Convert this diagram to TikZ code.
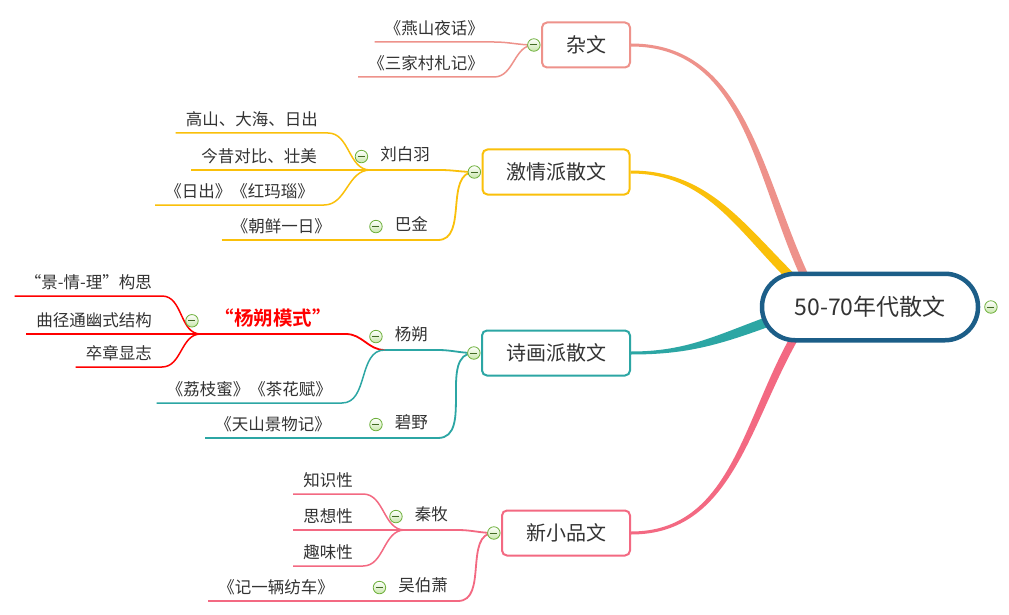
\documentclass[tikz,border=0pt]{standalone}
\usepackage{fontspec}
\setmainfont{Noto Sans CJK SC}[BoldFont={Noto Sans CJK SC Bold}]
\usetikzlibrary{positioning,calc,backgrounds}
\definecolor{txt}{RGB}{51,51,51}
\definecolor{rootc}{RGB}{28,94,136}
\definecolor{zwc}{RGB}{238,146,139}
\definecolor{jqc}{RGB}{250,192,10}
\definecolor{shc}{RGB}{44,166,164}
\definecolor{xpc}{RGB}{243,105,130}
\definecolor{togc}{RGB}{110,176,60}
\definecolor{togf}{RGB}{200,230,170}

\begin{document}
\begin{tikzpicture}[x=1pt,y=1pt,
    root/.style={draw=rootc,line width=4.5pt,rounded corners=33pt,fill=white,
      minimum width=216pt,minimum height=66.5pt,inner sep=0pt,
      font=\fontsize{23}{27}\selectfont,text=txt},
    branch/.style={draw=#1,line width=2pt,rounded corners=5pt,fill=white,
      minimum height=45pt,inner sep=0pt,font=\fontsize{20}{24}\selectfont,text=txt},
    sub/.style={anchor=south east,inner xsep=10pt,inner ysep=6pt,
      text height=11.5pt,text depth=3pt,font=\fontsize{16.5}{19}\selectfont,text=txt},
    leaf/.style={anchor=south east,inner xsep=10pt,inner ysep=4pt,
      text height=11pt,text depth=3pt,font=\fontsize{16.5}{19}\selectfont,text=txt},
    tog/.style={circle,draw=togc,line width=0.8pt,minimum size=12.5pt,inner sep=0pt,
      top color=white,bottom color=togf,
      path picture={\draw[togc!60!black,line width=1pt]
        ([xshift=-3.5pt]path picture bounding box.center) --
        ([xshift=3.5pt]path picture bounding box.center);}},
    sline/.style={line width=1.8pt},
    lline/.style={line width=1.5pt}]
  \useasboundingbox (0,0) rectangle (1009,-615);

  % Wurzel
  \node[root] (root) at (870,-307) {50-70年代散文};
  \node[tog,right=4pt of root] (t-root) {};
  \coordinate (r-zw) at (806,-279);
  \coordinate (r-jq) at (791,-277);
  \coordinate (r-sh) at (770,-321);
  \coordinate (r-xp) at (796,-335);

  % Hauptaeste
  \node[branch=zwc,minimum width=88pt] (zw) at (586,-45) {杂文};
  \node[branch=jqc,minimum width=147pt] (jq) at (556,-172) {激情派散文};
  \node[branch=shc,minimum width=148pt] (sh) at (556,-353) {诗画派散文};
  \node[branch=xpc,minimum width=128pt] (xp) at (566,-533) {新小品文};
  \foreach \b in {zw,jq,sh,xp}
    \node[tog,left=0.5pt of \b] (t-\b) {};

  % Autoren
  \node[sub] (lby) at (440,-170) {刘白羽};
  \node[sub] (bj) at (438,-240) {巴金};
  \node[sub] (ysh) at (438,-350) {杨朔};
  \node[sub] (by) at (438,-438) {碧野};
  \node[sub] (qm) at (458,-530) {秦牧};
  \node[sub] (wbx) at (458,-601) {吴伯萧};
  \node[sub,inner xsep=14pt,inner ysep=4pt,text height=14pt,text depth=4pt,
    font=\fontsize{19.5}{22}\selectfont\bfseries,text=red] (ysm) at (346,-334) {“杨朔模式”};
  \foreach \s in {lby,bj,ysh,by,qm,wbx,ysm}
    \node[tog,left=2pt of \s] (t-\s) {};

  % Werke und Merkmale
  \node[leaf] (yy) at (494,-42) {《燕山夜话》};
  \node[leaf] (sj) at (494,-77) {《三家村札记》};
  \node[leaf] (gs) at (328,-133) {高山、大海、日出};
  \node[leaf] (jx) at (327,-170) {今昔对比、壮美};
  \node[leaf] (rc) at (324,-205) {《日出》《红玛瑙》};
  \node[leaf] (cx) at (341,-240) {《朝鲜一日》};
  \node[leaf] (jql) at (162,-296) {“景-情-理”构思};
  \node[leaf] (qj) at (162,-334) {曲径通幽式结构};
  \node[leaf] (zz) at (162,-367) {卒章显志};
  \node[leaf] (lz) at (342,-403) {《荔枝蜜》《茶花赋》};
  \node[leaf] (ts) at (341,-438) {《天山景物记》};
  \node[leaf] (zs) at (363,-494) {知识性};
  \node[leaf] (sx) at (363,-530) {思想性};
  \node[leaf] (qw) at (363,-566) {趣味性};
  \node[leaf] (jy) at (344,-601) {《记一辆纺车》};

  \begin{scope}[on background layer]
    \fill[white] (0,0) rectangle (1009,-615);

    % Aeste zur Wurzel (spitz zulaufend)
    \foreach \b/\c/\ang/\dx/\dy in {zw/zwc/115/3.6/1.7, jq/jqc/135/3.2/3.2,
        sh/shc/200/-1.7/4.7, xp/xpc/240/-3.5/2}
      \fill[\c] ([yshift=1.5pt]\b.east) to[out=0,in=\ang] ($(r-\b)+(\dx,\dy)$)
        -- ($(r-\b)-(\dx,\dy)$) to[out=\ang,in=0] ([yshift=-1.5pt]\b.east) -- cycle;

    % Autoren zu den Aesten
    \foreach \s/\p/\c in {lby/jq/jqc, bj/jq/jqc, ysh/sh/shc, by/sh/shc, qm/xp/xpc, wbx/xp/xpc}
      \draw[sline,\c] (\s.south west) -- (\s.south east) to[out=0,in=180] (t-\p.center);
    \draw[sline,red] (ysm.south west) -- (ysm.south east) to[out=0,in=180] (ysh.south west);

    % Blaetter
    \foreach \l/\p/\c in {yy/t-zw.center/zwc, sj/t-zw.center/zwc,
        gs/lby.south west/jqc, jx/lby.south west/jqc, rc/lby.south west/jqc,
        cx/bj.south west/jqc,
        jql/ysm.south west/red, qj/ysm.south west/red, zz/ysm.south west/red,
        lz/ysh.south west/shc, ts/by.south west/shc,
        zs/qm.south west/xpc, sx/qm.south west/xpc, qw/qm.south west/xpc,
        jy/wbx.south west/xpc}
      \draw[lline,\c] (\l.south west) -- (\l.south east) to[out=0,in=180] (\p);
  \end{scope}
\end{tikzpicture}
\end{document}
